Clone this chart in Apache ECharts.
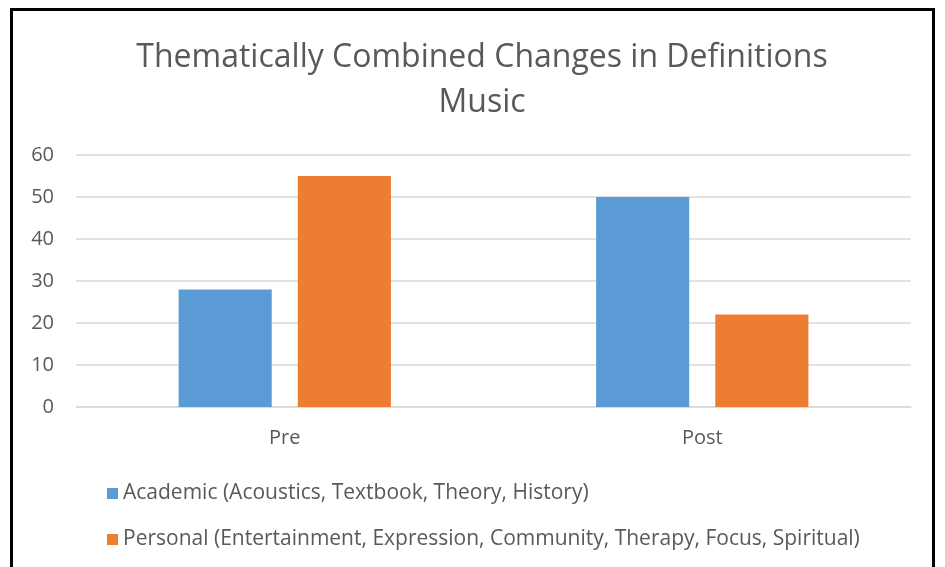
<!DOCTYPE html>
<html><head><meta charset="utf-8">
<script src="https://cdn.jsdelivr.net/npm/echarts@6/dist/echarts.min.js"></script>
<style>
html,body{margin:0;padding:0;background:#fff;overflow:hidden;}
#frame{position:absolute;left:10px;top:8px;width:925px;height:600px;border:3px solid #000;box-sizing:border-box;}
#chart{position:absolute;left:0;top:0;width:945px;height:567px;}
</style></head>
<body>
<div id="frame"></div>
<div id="chart"></div>
<script>
const categories = ['Pre', 'Post'];
const academic = [28, 50];
const personal = [55, 22];
const seriesNames = ['Academic (Acoustics, Textbook, Theory, History)', 'Personal (Entertainment, Expression, Community, Therapy, Focus, Spiritual)'];
const titleText = 'Thematically Combined Changes in Definitions\nMusic';

const chart = echarts.init(document.getElementById('chart'));
chart.setOption({
  animation: false,
  title: {
    text: titleText,
    left: 477, textAlign: 'center', top: 30,
    textStyle: {fontFamily: 'Open Sans', fontWeight: 'normal', fontSize: 32, color: '#595959', lineHeight: 45}
  },
  legend: {
    orient: 'vertical', left: 102, top: 478, itemGap: 25,
    itemWidth: 11, itemHeight: 11, icon: 'rect',
    textStyle: {fontFamily: 'Open Sans', fontSize: 21, color: '#595959', padding: [0,0,0,0]},
    data: seriesNames
  },
  grid: {left: 76, right: 34, top: 155, bottom: 160, containLabel: false},
  xAxis: {
    type: 'category', data: categories,
    axisLine: {show: true, lineStyle: {color: '#d9d9d9', width: 1.5}},
    axisTick: {show: false},
    axisLabel: {fontFamily: 'Open Sans', fontSize: 20, color: '#595959', margin: 21}
  },
  yAxis: {
    type: 'value', min: 0, max: 60, interval: 10,
    axisLine: {show: false}, axisTick: {show: false},
    splitLine: {lineStyle: {color: '#d9d9d9', width: 1.5}},
    axisLabel: {fontFamily: 'Open Sans', fontSize: 20, color: '#595959', margin: 22}
  },
  series: [
    {name: seriesNames[0], type: 'bar', data: academic, barWidth: '22.3%', barGap: '28%', itemStyle: {color: '#5b9bd5'}},
    {name: seriesNames[1], type: 'bar', data: personal, barWidth: '22.3%', barGap: '28%', itemStyle: {color: '#ed7d31'}}
  ]
});
</script>
</body></html>
